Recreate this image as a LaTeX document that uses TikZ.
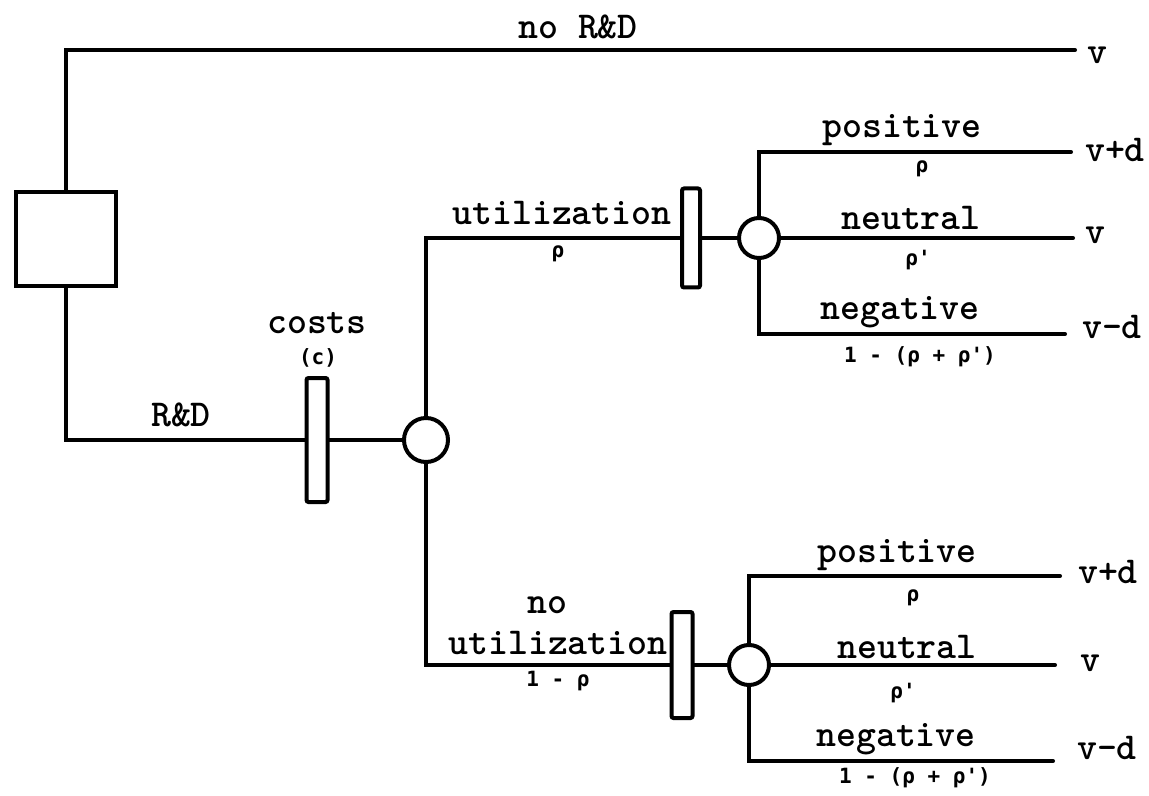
\documentclass[tikz,border=0pt]{standalone}
\usepackage{fontspec}
\newfontfamily\probfont{DejaVu Sans Mono}
\begin{document}
\begin{tikzpicture}[x={(0.5pt,0)}, y={(0,-0.5pt)},
  branch/.style={line width=2pt, line cap=round, line join=miter},
  decision/.style={draw, line width=2pt, rectangle, inner sep=0pt,
    minimum width=50pt, minimum height=47pt},
  costbar/.style={draw, line width=2pt, rectangle, inner sep=0pt, rounded corners=1pt},
  chance/.style={draw, line width=2pt, circle, inner sep=0pt},
  lbl/.style={font=\ttfamily\bfseries\fontsize{19}{21}\selectfont, inner sep=0pt},
  prob/.style={font=\probfont\bfseries\fontsize{10.5}{12}\selectfont, inner sep=0pt}]
\useasboundingbox (0,0) rectangle (1149,796);

% decision, cost and chance nodes
\node[decision] (dec) at (66,239) {};
\node[costbar, minimum width=10.5pt, minimum height=62pt] (cbar) at (317,440) {};
\node[chance, minimum size=22pt] (c1) at (426,440) {};
\node[costbar, minimum width=9pt, minimum height=49.5pt] (ubar) at (691,238) {};
\node[chance, minimum size=20pt] (c2) at (759,238) {};
\node[costbar, minimum width=10.5pt, minimum height=53pt] (nbar) at (682,665) {};
\node[chance, minimum size=20pt] (c3) at (749,665) {};

% branch corners and free ends
\coordinate (top) at (66,50);
\coordinate (topend) at (1075,50);
\coordinate (rd) at (66,440);
\coordinate (u) at (426,238);
\coordinate (nu) at (426,665);
\coordinate (p1) at (759,152);
\coordinate (p1e) at (1071,152);
\coordinate (n1e) at (1073,238);
\coordinate (g1) at (759,334);
\coordinate (g1e) at (1065,334);
\coordinate (p2) at (749,576);
\coordinate (p2e) at (1060,576);
\coordinate (n2e) at (1055,665);
\coordinate (g2) at (749,761);
\coordinate (g2e) at (1053,761);

% branches
\draw[branch] (dec.north) -- (top) -- (topend);
\draw[branch] (dec.south) -- (rd) -- (cbar.west);
\draw[branch] (cbar.east) -- (c1.west);
\draw[branch] (c1.north) -- (u) -- (ubar.west);
\draw[branch] (ubar.east) -- (c2.west);
\draw[branch] (c2.north) -- (p1) -- (p1e);
\draw[branch] (c2.east) -- (n1e);
\draw[branch] (c2.south) -- (g1) -- (g1e);
\draw[branch] (c1.south) -- (nu) -- (nbar.west);
\draw[branch] (nbar.east) -- (c3.west);
\draw[branch] (c3.north) -- (p2) -- (p2e);
\draw[branch] (c3.east) -- (n2e);
\draw[branch] (c3.south) -- (g2) -- (g2e);

% labels
\node[lbl] (lnord) at (578,27) {no R\&D};
\node[lbl] (vtop) at (1097,55) {v};
\node[lbl] (lrd) at (181,415) {R\&D};
\node[lbl] (lcost) at (317,323) {costs};
\node[prob] (lc) at (318,358) {(c)};

\node[lbl] (lutil) at (562,213) {utilization};
\node[prob] (pu) at (558,254) {ρ};
\node[lbl] (lpos1) at (902,130) {positive};
\node[prob] (pp1) at (922,169) {ρ};
\node[lbl] (vpd1) at (1115,150) {v+d};
\node[lbl] (lneu1) at (911,218) {neutral};
\node[prob] (pn1) at (918,260) {ρ'};
\node[lbl] (v1) at (1095,235) {v};
\node[lbl] (lneg1) at (900,312) {negative};
\node[prob] (pg1) at (920,357) {1 - (ρ + ρ')};
\node[lbl] (vmd1) at (1112,327) {v-d};

\node[lbl] (lno) at (547,605) {no};
\node[lbl] (lnutil) at (558,643) {utilization};
\node[prob] (pnu) at (558,681) {1 - ρ};
\node[lbl] (lpos2) at (897,555) {positive};
\node[prob] (pp2) at (913,598) {ρ};
\node[lbl] (vpd2) at (1108,572) {v+d};
\node[lbl] (lneu2) at (907,647) {neutral};
\node[prob] (pn2) at (903,693) {ρ'};
\node[lbl] (v2) at (1090,663) {v};
\node[lbl] (lneg2) at (896,739) {negative};
\node[prob] (pg2) at (915,778) {1 - (ρ + ρ')};
\node[lbl] (vmd2) at (1107,748) {v-d};
\end{tikzpicture}
\end{document}
